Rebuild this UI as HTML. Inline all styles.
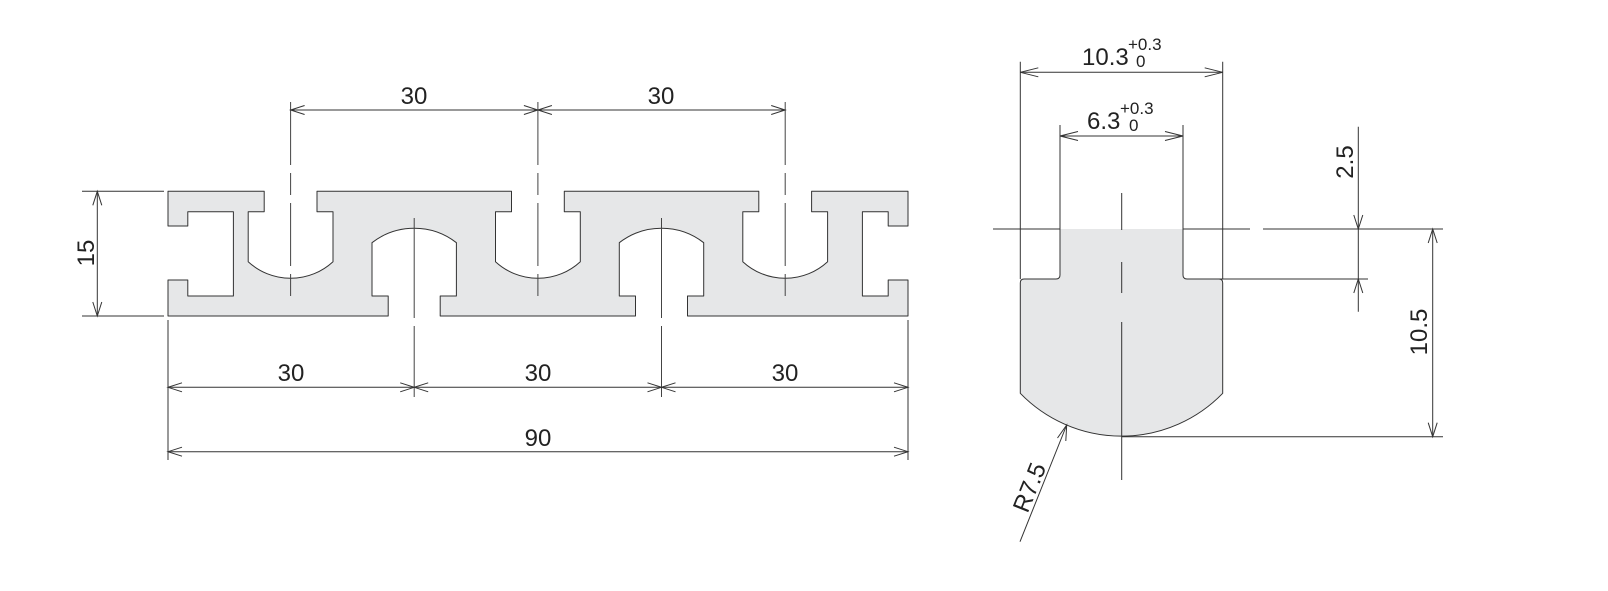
<!DOCTYPE html>
<html><head><meta charset="utf-8"><style>
html,body{margin:0;padding:0;background:#fff;}
svg{display:block;}
text{font-family:"Liberation Sans",sans-serif;fill:#222;}
</style></head><body>
<svg width="1608" height="591" viewBox="0 0 1608 591" xmlns="http://www.w3.org/2000/svg">
<g fill="none" stroke="#333" stroke-width="1">
<path fill="#e6e7e8" stroke-linejoin="round" d="M168,191.3 H264.2 V211.7 H248.2 V261.7 A62.5,62.5 0 0 0 333,261.7 V211.7 H317 V191.3 H511.5 V211.7 H495.5 V261.7 A62.5,62.5 0 0 0 580.3,261.7 V211.7 H564.3 V191.3 H758.8 V211.7 H742.8 V261.7 A62.5,62.5 0 0 0 827.6,261.7 V211.7 H811.6 V191.3 H908 V226 H888.2 V211.7 H862.4 V296 H888.2 V280 H908 V316 H687.5 V296 H703.7 V242.7 A69,69 0 0 0 619.3,242.7 V296 H635.5 V316 H440.2 V296 H456.4 V242.7 A69,69 0 0 0 372,242.7 V296 H388.2 V316 H168 V280 H187.8 V296 H233.4 V211.7 H187.8 V226 H168 Z"/>
<g stroke="#444" stroke-dasharray="63 8 22 8">
<line x1="290.6" y1="102" x2="290.6" y2="300"/>
<line x1="537.9" y1="102" x2="537.9" y2="300"/>
<line x1="785.2" y1="102" x2="785.2" y2="300"/>
</g>
<g stroke="#444" stroke-dasharray="100 8 80">
<line x1="414.2" y1="218" x2="414.2" y2="397"/>
<line x1="661.5" y1="218" x2="661.5" y2="397"/>
</g>
<line x1="290.6" y1="110" x2="785.2" y2="110"/>
<polyline points="304.6,105.5 290.6,110 304.6,114.5"/>
<polyline points="523.9,105.5 537.9,110 523.9,114.5"/>
<polyline points="551.9,105.5 537.9,110 551.9,114.5"/>
<polyline points="771.2,105.5 785.2,110 771.2,114.5"/>
<line x1="168" y1="320" x2="168" y2="460"/>
<line x1="908" y1="320" x2="908" y2="460"/>
<line x1="82" y1="191.3" x2="164" y2="191.3"/>
<line x1="82" y1="316" x2="164" y2="316"/>
<line x1="168" y1="387.3" x2="908" y2="387.3"/>
<polyline points="182,382.8 168,387.3 182,391.8"/>
<polyline points="400.2,382.8 414.2,387.3 400.2,391.8"/>
<polyline points="428.2,382.8 414.2,387.3 428.2,391.8"/>
<polyline points="647.5,382.8 661.5,387.3 647.5,391.8"/>
<polyline points="675.5,382.8 661.5,387.3 675.5,391.8"/>
<polyline points="894,382.8 908,387.3 894,391.8"/>
<line x1="168" y1="451.7" x2="908" y2="451.7"/>
<polyline points="182,447.2 168,451.7 182,456.2"/>
<polyline points="894,447.2 908,451.7 894,456.2"/>
<line x1="97.3" y1="191.3" x2="97.3" y2="316"/>
<polyline points="92.8,205.3 97.3,191.3 101.8,205.3"/>
<polyline points="92.8,302 97.3,316 101.8,302"/>

<path fill="#e6e7e8" stroke="none" d="M1060,229 H1183 V279 H1222.7 V393.3 A141,141 0 0 1 1121.5,436.5 A141,141 0 0 1 1020.3,393.3 V279 H1060 Z"/>
<path stroke-linejoin="round" d="M1060,229 V275 Q1060,279 1056,279 H1024 Q1020.3,279 1020.3,283 V393.3 A141,141 0 0 0 1222.7,393.3 V283 Q1222.7,279 1219,279 H1187 Q1183,279 1183,275 V229"/>
<line x1="1020.3" y1="61.7" x2="1020.3" y2="279"/>
<line x1="1222.7" y1="61.7" x2="1222.7" y2="279"/>
<line x1="1060" y1="125" x2="1060" y2="229"/>
<line x1="1183" y1="125" x2="1183" y2="229"/>
<line x1="993" y1="229" x2="1060" y2="229"/>
<line x1="1183" y1="229" x2="1250" y2="229"/>
<line x1="1263" y1="229" x2="1443" y2="229"/>
<line x1="1190" y1="279" x2="1368" y2="279"/>
<line x1="1121.5" y1="436.7" x2="1443" y2="436.7"/>
<line x1="1121.7" y1="193" x2="1121.7" y2="480" stroke-dasharray="37 32 31 29 200"/>
<line x1="1020.3" y1="72.3" x2="1222.7" y2="72.3"/>
<polyline points="1038.3,67.8 1020.3,72.3 1038.3,76.8"/>
<polyline points="1204.7,67.8 1222.7,72.3 1204.7,76.8"/>
<line x1="1060" y1="136" x2="1183" y2="136"/>
<polyline points="1078,131.5 1060,136 1078,140.5"/>
<polyline points="1165,131.5 1183,136 1165,140.5"/>
<line x1="1358.3" y1="126.7" x2="1358.3" y2="311.7"/>
<polyline points="1353.8,215 1358.3,229 1362.8,215"/>
<polyline points="1353.8,293 1358.3,279 1362.8,293"/>
<line x1="1432.7" y1="229" x2="1432.7" y2="436.7"/>
<polyline points="1428.2,243 1432.7,229 1437.2,243"/>
<polyline points="1428.2,422.7 1432.7,436.7 1437.2,422.7"/>
<line x1="1020" y1="541.7" x2="1066.7" y2="425"/>
<polyline points="1057.5,438 1066.7,425 1065.8,441"/>
</g>

<g font-size="24" text-anchor="middle">
<text x="414" y="104">30</text>
<text x="661" y="104">30</text>
<text x="291" y="381">30</text>
<text x="538" y="381">30</text>
<text x="785" y="381">30</text>
<text x="538" y="446">90</text>
<text transform="translate(94,253) rotate(-90)">15</text>
<text transform="translate(1353,162) rotate(-90)">2.5</text>
<text transform="translate(1427,332) rotate(-90)">10.5</text>
<text transform="translate(1037,490.5) rotate(-68)">R7.5</text>
</g>
<g font-size="24">
<text x="1082" y="65">10.3</text>
<text x="1087" y="129">6.3</text>
</g>
<g font-size="17">
<text x="1128" y="50">+0.3</text>
<text x="1136" y="67">0</text>
<text x="1120" y="114">+0.3</text>
<text x="1129" y="131">0</text>
</g>
</svg>
</body></html>
